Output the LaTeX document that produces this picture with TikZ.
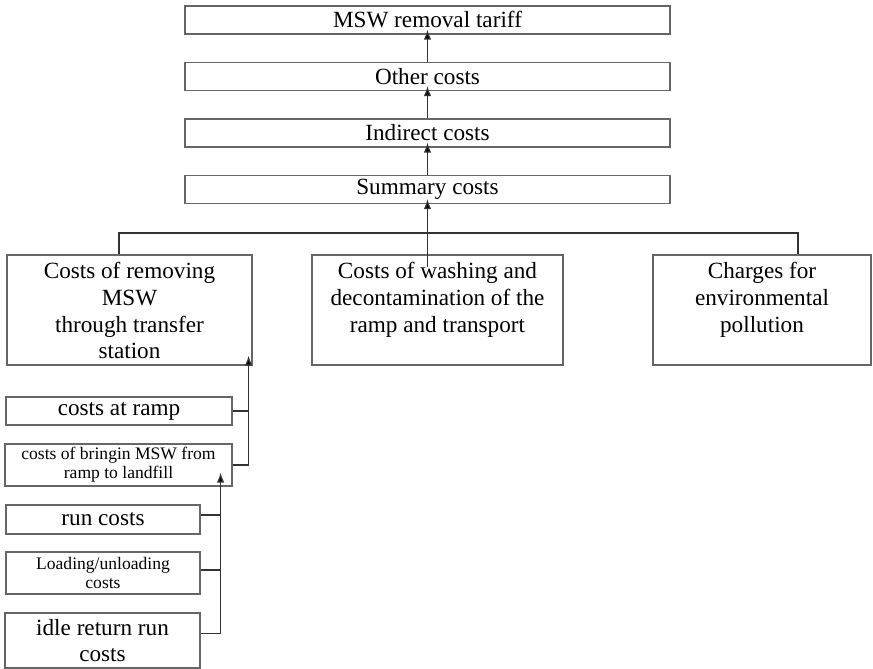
\documentclass[tikz,border=0pt]{standalone}
\usepackage{fontspec}
\setmainfont{Liberation Serif}
\usetikzlibrary{arrows.meta}
\newcommand{\bigtext}{\fontsize{13.2}{15.2}\selectfont}
\newcommand{\smalltext}{\fontsize{10}{11}\selectfont}
\newcommand{\rowtext}[2][4.6cm]{\parbox[t][1.9cm][t]{#1}{\centering #2}}

\begin{document}
\begin{tikzpicture}[x=0.02cm, y=-0.02cm, font=\bigtext,
  box/.style={draw=black!60, line width=0.7pt, inner sep=0pt, align=center},
  costbox/.style={box, minimum width=9.7cm, minimum height=0.56cm},
  rowbox/.style={box, minimum height=2.2cm},
  link/.style={draw=black!80, line width=0.7pt},
  up/.style={link, -{Latex[length=0.2cm,width=0.15cm,fill=black]}, shorten >=-0.1cm}]
\useasboundingbox (0,0) rectangle (873,669);

% Tariff chain
\node[costbox] (tariff)   at (427.5,20)   {MSW removal tariff};
\node[costbox] (other)    at (427.5,76.5) {Other costs};
\node[costbox] (indirect) at (427.5,133)  {Indirect costs};
\node[costbox] (summary)  at (427.5,189.5) {Summary costs};

% Cost groups
\node[rowbox, minimum width=4.9cm]  (removing) at (129.5,310) {\rowtext{Costs of removing\\ MSW\\ through transfer\\ station}};
\node[rowbox, minimum width=5.02cm] (washing)  at (437.5,310) {\rowtext{Costs of washing and\\ decontamination of the\\ ramp and transport}};
\node[rowbox, minimum width=4.36cm] (charges)  at (762,310)   {\rowtext[4.2cm]{Charges for\\ environmental\\ pollution}};

% Transfer station items
\node[box, minimum width=4.52cm, minimum height=0.56cm] (ramp)    at (119,411)   {costs at ramp};
\node[box, minimum width=4.54cm, minimum height=0.84cm, font=\smalltext] (bringin) at (118.5,465) {costs of bringin MSW from\\ ramp to landfill};
\node[box, minimum width=3.88cm, minimum height=0.58cm] (run)     at (103,519.5) {run costs};
\node[box, minimum width=3.88cm, minimum height=0.84cm, font=\smalltext] (loading) at (103,573) {Loading/unloading\\ costs};
\node[box, minimum width=3.9cm, minimum height=1.1cm]   (idle)    at (102.5,640.5) {idle return run\\ costs};

% Arrows up the chain
\draw[up] (other.north) -- (tariff.south);
\draw[up] (indirect.north) -- (other.south);
\draw[up] (summary.north) -- (indirect.south);
\path (washing.north -| summary.south) ++(0,13) coordinate (washin);
\draw[up] (washin) -- (summary.south);

% Bus
\coordinate (busL) at (119,233);
\coordinate (busR) at (798,233);
\draw[link] (busL |- removing.north) -- (busL) -- (busR) -- (busR |- charges.north);

% Transfer branch
\draw[up, shorten >=-0.2cm] (bringin.east) -- ++(16,0) coordinate (jA) -- (jA |- removing.south);
\draw[link] (ramp.east) -- (ramp.east -| jA);

% Run branch
\draw[up, shorten >=-0.28cm] ([yshift=0.14cm]idle.east) -- ++(20,0) coordinate (jB) -- (jB |- bringin.south);
\draw[link] ([yshift=0.09cm]run.east) -- ([yshift=0.09cm]run.east -| jB);
\draw[link] ([yshift=0.06cm]loading.east) -- ([yshift=0.06cm]loading.east -| jB);
\end{tikzpicture}
\end{document}
